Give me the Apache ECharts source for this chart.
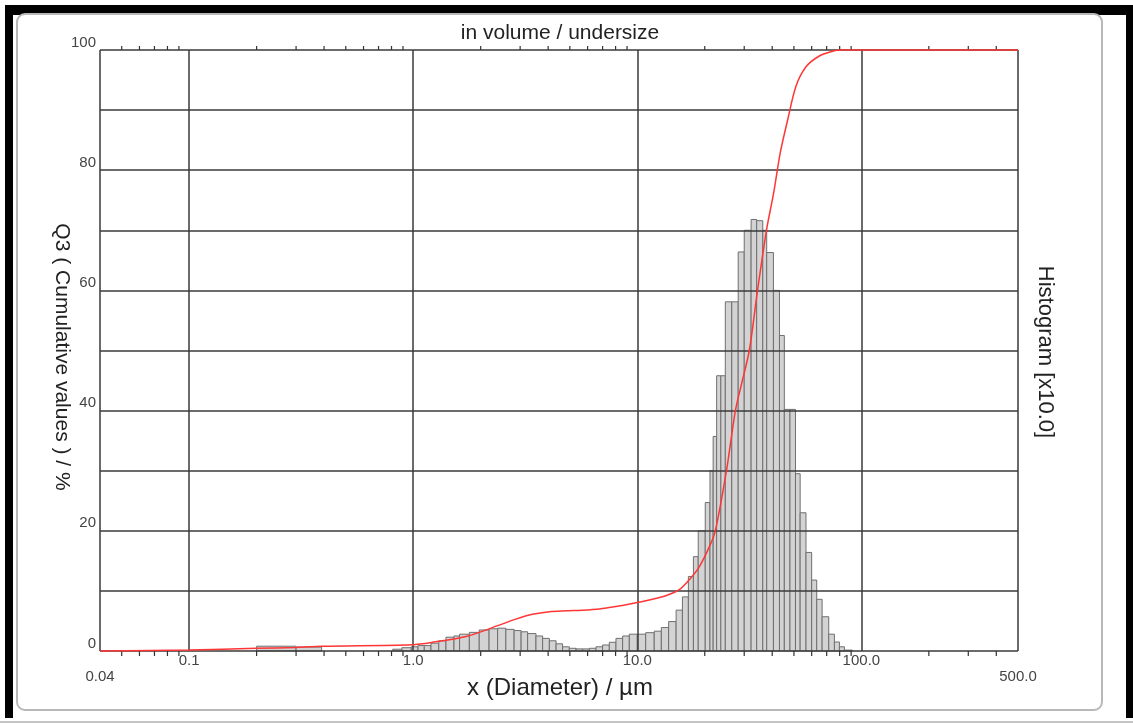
<!DOCTYPE html>
<html>
<head>
<meta charset="utf-8">
<script src="https://cdn.jsdelivr.net/npm/echarts@6/dist/echarts.min.js"></script>
<style>
html, body { margin: 0; padding: 0; background: #fff; }
#main { width: 1133px; height: 724px; }
</style>
</head>
<body>
<div id="main"></div>
<script>
// histogram classes, µm (lower / upper edge) and height on the left scale (x10)
var binFrom = [0.20, 0.30, 0.81, 0.89, 0.98, 1.05, 1.12, 1.20, 1.30, 1.40, 1.52, 1.61, 1.78, 1.97, 2.18, 2.38, 2.59, 2.82, 3.03, 3.24, 3.53, 3.78, 4.05, 4.34, 4.64, 4.97, 5.33, 5.70, 6.11, 6.54, 7.00, 7.50, 8.03, 8.60, 9.21, 10.0, 10.9, 11.9, 12.8, 13.8, 14.9, 15.9, 16.9, 17.8, 18.7, 20.1, 21.1, 21.8, 22.6, 23.6, 24.7, 26.4, 28.2, 30.0, 32.2, 34.1, 36.3, 37.8, 40.5, 43.1, 45.3, 48.0, 50.8, 53.3, 56.6, 60.0, 63.2, 66.8, 71.5, 75.8, 79.8, 84.0];
var binTo   = [0.30, 0.39, 0.89, 0.98, 1.05, 1.12, 1.20, 1.30, 1.40, 1.52, 1.61, 1.78, 1.97, 2.18, 2.38, 2.59, 2.82, 3.03, 3.24, 3.53, 3.78, 4.05, 4.34, 4.64, 4.97, 5.33, 5.70, 6.11, 6.54, 7.00, 7.50, 8.03, 8.60, 9.21, 10.0, 10.9, 11.9, 12.8, 13.8, 14.9, 15.9, 16.9, 17.8, 18.7, 20.1, 21.1, 21.8, 22.6, 23.6, 24.7, 26.4, 28.2, 30.0, 32.2, 34.1, 36.3, 37.8, 40.5, 43.1, 45.3, 48.0, 50.8, 53.3, 56.6, 60.0, 63.2, 66.8, 71.5, 75.8, 79.8, 84.0, 91.2];
var binHeight = [0.8, 0.65, 0.3, 0.55, 0.7, 0.9, 0.9, 1.3, 1.7, 2.3, 2.5, 2.8, 3.1, 3.5, 3.7, 3.8, 3.6, 3.4, 3.2, 2.9, 2.5, 2.1, 1.7, 1.2, 0.7, 0.45, 0.35, 0.35, 0.45, 0.7, 1.0, 1.45, 2.1, 2.5, 2.8, 2.8, 3.05, 3.3, 3.9, 4.9, 6.8, 9.0, 12.4, 15.7, 20.0, 24.7, 30.0, 35.7, 45.8, 45.8, 58.1, 58.1, 66.4, 70.0, 71.8, 71.6, 70.0, 66.3, 60.0, 52.5, 40.2, 40.2, 29.5, 23.0, 16.4, 11.8, 8.6, 5.7, 2.8, 1.5, 0.7, 0.15];

// cumulative curve Q3 (%)
var cumX = [0.04, 0.1, 0.2, 0.3, 0.39, 0.99, 1.22, 1.72, 2.42, 2.87, 3.40, 4.05, 4.81, 5.68, 6.77, 8.03, 9.50, 11.3, 13.4, 15.4, 17.1, 18.9, 21.0, 22.3, 25.0, 27.4, 29.0, 31.6, 34.4, 37.7, 40.5, 43.5, 46.9, 51.1, 56.6, 64.9, 74.5, 79.8, 500];
var cumY = [0, 0.17, 0.45, 0.6, 0.8, 1.05, 1.45, 2.4, 4.3, 5.3, 6.1, 6.55, 6.7, 6.8, 7.0, 7.4, 7.9, 8.5, 9.2, 10.2, 11.9, 14.0, 17.4, 20, 30, 40, 44, 50, 60, 70, 76, 83, 88.4, 94.0, 97.2, 99.0, 99.8, 100, 100];

// small ticks on the log axis
var minorTicks = [0.05, 0.06, 0.07, 0.08, 0.09, 0.2, 0.3, 0.4, 0.5, 0.6, 0.7, 0.8, 0.9, 2, 3, 4, 5, 6, 7, 8, 9, 20, 30, 40, 50, 60, 70, 80, 90, 200, 300, 400];
var yLabelStep = 20;

var FONT = 'Liberation Sans, Arial, sans-serif';
var GRID = '#3a3a3a';

var histData = binFrom.map(function (f, i) { return [f, binTo[i], binHeight[i]]; });
var cumData = cumX.map(function (x, i) { return [x, cumY[i]]; });
var tickData = minorTicks.map(function (t) { return [t]; });

var chart = echarts.init(document.getElementById('main'));

var titleStyle = function (text, size) {
    return { text: text, font: size + 'px ' + FONT, fill: '#222', align: 'center', verticalAlign: 'middle', textAlign: 'center', textVerticalAlign: 'middle' };
};

var option = {
    backgroundColor: '#fff',
    animation: false,
    grid: { left: 100, top: 50, width: 918, height: 601 },
    xAxis: {
        type: 'log',
        logBase: 10,
        min: 0.04,
        max: 500,
        axisLine: { show: false },
        axisTick: { show: false },
        splitLine: { show: true, lineStyle: { color: GRID, width: 1.5 } },
        axisLabel: {
            margin: 2,
            fontSize: 15,
            fontFamily: FONT,
            color: '#444',
            showMinLabel: true,
            showMaxLabel: true,
            formatter: function (v) {
                if (Math.abs(v - 0.04) < 1e-6) return '{low|0.04}';
                if (Math.abs(v - 500) < 1e-6) return '{low|500.0}';
                return v.toFixed(1);
            },
            rich: {
                low: { fontSize: 15, fontFamily: FONT, color: '#444', padding: [16, 0, 0, 0] }
            }
        }
    },
    yAxis: {
        type: 'value',
        min: 0,
        max: 100,
        interval: 10,
        axisLine: { show: false },
        axisTick: { show: false },
        splitLine: { show: true, lineStyle: { color: GRID, width: 1.5 } },
        axisLabel: {
            margin: 4,
            fontSize: 15,
            fontFamily: FONT,
            color: '#444',
            verticalAlign: 'bottom',
            formatter: function (v) { return v % yLabelStep === 0 ? String(v) : ''; }
        }
    },
    series: [
        {
            // histogram, under the grid lines
            type: 'custom',
            z: -1,
            silent: true,
            encode: { x: [0, 1], y: 2 },
            data: histData,
            renderItem: function (params, api) {
                var p0 = api.coord([api.value(0), api.value(2)]);
                var p1 = api.coord([api.value(1), 0]);
                return {
                    type: 'rect',
                    shape: { x: p0[0], y: p0[1], width: p1[0] - p0[0], height: p1[1] - p0[1] },
                    style: { fill: '#d3d3d3', stroke: '#6f6f6f', lineWidth: 1 }
                };
            }
        },
        {
            // minor ticks top and bottom
            type: 'custom',
            silent: true,
            clip: false,
            z: 4,
            data: tickData,
            encode: { x: 0 },
            renderItem: function (params, api) {
                var top = api.coord([api.value(0), 100]);
                var bot = api.coord([api.value(0), 0]);
                return {
                    type: 'group',
                    children: [
                        { type: 'line', shape: { x1: top[0], y1: top[1], x2: top[0], y2: top[1] - 4 }, style: { stroke: '#333', lineWidth: 1.2 } },
                        { type: 'line', shape: { x1: bot[0], y1: bot[1], x2: bot[0], y2: bot[1] + 5 }, style: { stroke: '#333', lineWidth: 1.2 } }
                    ]
                };
            }
        },
        {
            type: 'line',
            data: cumData,
            showSymbol: false,
            smooth: 0.3,
            clip: false,
            z: 5,
            lineStyle: { color: '#ff3636', width: 1.5 }
        }
    ],
    graphic: [
        // black frame of the screenshot
        { type: 'rect', shape: { x: 5, y: 5, width: 1128, height: 10 }, style: { fill: '#000' } },
        { type: 'rect', shape: { x: 5, y: 5, width: 8, height: 713 }, style: { fill: '#000' } },
        { type: 'rect', shape: { x: 1126, y: 5, width: 7, height: 713 }, style: { fill: '#000' } },
        { type: 'line', shape: { x1: 0, y1: 722, x2: 1133, y2: 722 }, style: { stroke: '#c4c4c4', lineWidth: 2 } },
        { type: 'rect', shape: { x: 17, y: 14, width: 1085, height: 696, r: 8 }, style: { fill: 'none', stroke: '#b8b8b8', lineWidth: 2 } },
        { type: 'text', x: 560, y: 33, style: titleStyle('in volume / undersize', 21) },
        { type: 'text', x: 560, y: 688, style: titleStyle('x (Diameter) / µm', 24) },
        { type: 'text', x: 62, y: 357, rotation: -Math.PI / 2, style: titleStyle('Q3 ( Cumulative values ) / %', 21) },
        { type: 'text', x: 1045, y: 352, rotation: -Math.PI / 2, style: titleStyle('Histogram [x10.0]', 22) }
    ]
};

chart.setOption(option);
</script>
</body>
</html>
